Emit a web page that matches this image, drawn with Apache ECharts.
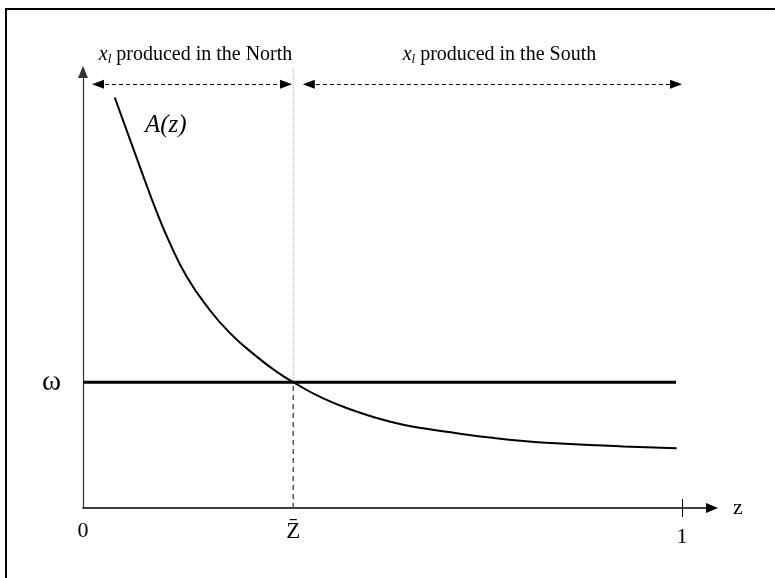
<!DOCTYPE html>
<html>
<head>
<meta charset="utf-8">
<script src="https://cdn.jsdelivr.net/npm/echarts@6/dist/echarts.min.js"></script>
<style>html,body{margin:0;padding:0;background:#fff}#c{width:775px;height:578px}</style>
</head>
<body>
<div id="c"></div>
<script>
// ---- data ----
const zValues = [0.053, 0.098, 0.123, 0.145, 0.173, 0.207, 0.245, 0.290, 0.323, 0.351, 0.401, 0.457, 0.513, 0.568, 0.624, 0.679, 0.735, 0.791, 0.846, 0.902, 0.991];
const aValues = [93.3, 76.4, 67.3, 60.2, 52.6, 45.8, 39.8, 34.4, 31.0, 28.6, 24.9, 21.9, 19.6, 18.1, 17.0, 16.0, 15.2, 14.7, 14.3, 14.0, 13.6];
const omega = 28.6;          // level of the horizontal ω line
const omegaEnd = 0.990;      // where the ω line stops
const zBar = 0.351;          // crossing point z̄
const zMax = 1;
const arrowLevel = 96.3;     // height of the dashed range arrows
const northRange = [0.025, 0.339];
const southRange = [0.377, 0.990];
const topLevel = 100;
const xTickLabels = ['0', 'Z\u0304', '1'];
const yTickLabel = 'ω';
const northText = 'produced in the North';
const southText = 'produced in the South';
const curveName = 'A(z)';
const xName = 'z';

const serif = "'Liberation Serif','Times New Roman',serif";
const richTop = {
  x: {fontFamily: serif, fontStyle: 'italic', fontSize: 20, color: '#000', lineHeight: 24},
  l: {fontFamily: serif, fontStyle: 'italic', fontSize: 13, color: '#000', lineHeight: 24, verticalAlign: 'bottom'},
  t: {fontFamily: serif, fontSize: 20, color: '#000', lineHeight: 24}
};

const curveData = zValues.map((z, i) => [z, aValues[i]]);
const xLabelValues = [0, zBar, zMax];

const chart = echarts.init(document.getElementById('c'), null, {renderer: 'canvas'});
chart.setOption({
  animation: false,
  backgroundColor: '#fff',
  grid: {left: 83, right: 63, top: 68, bottom: 70, containLabel: false},
  xAxis: [{
    type: 'value', min: 0, max: 1.05,
    splitLine: {show: false},
    axisLine: {show: true, lineStyle: {color: '#000', width: 1.5}, symbol: ['none', 'triangle'], symbolSize: [10, 12]},
    axisTick: {show: true, customValues: [zMax], length: 9, lineStyle: {color: '#000', width: 1}},
    axisLabel: {
      show: true, customValues: xLabelValues, margin: 12,
      formatter: function (v) {
        const i = xLabelValues.indexOf(v);
        if (i === 2) return '{c|' + xTickLabels[i] + '}';
        if (i === 1) return '{b|' + xTickLabels[i] + '}';
        return '{a|' + xTickLabels[i] + '}';
      },
      rich: {
        a: {fontFamily: serif, fontSize: 22, color: '#000'},
        b: {fontFamily: serif, fontSize: 23, color: '#000'},
        c: {fontFamily: serif, fontSize: 22, color: '#000', padding: [6, 0, 0, 0]}
      }
    },
    name: xName, nameLocation: 'end', nameGap: 21,
    nameTextStyle: {fontFamily: serif, fontSize: 22, color: '#000', padding: [36, 0, 0, 0]}
  }, {
    type: 'value', min: 0, max: 1.05, position: 'bottom',
    splitLine: {show: false},
    axisLine: {show: false},
    axisTick: {show: true, inside: true, customValues: [zMax], length: 9, lineStyle: {color: '#000', width: 1}},
    axisLabel: {show: false}
  }],
  yAxis: {
    type: 'value', min: 0, max: 100,
    splitLine: {show: false},
    axisLine: {show: true, lineStyle: {color: '#333', width: 1.2}, symbol: ['none', 'triangle'], symbolSize: [10, 12], symbolOffset: [0, -4]},
    axisTick: {show: false},
    axisLabel: {show: true, customValues: [omega], formatter: () => yTickLabel, margin: 22,
      fontFamily: serif, fontSize: 29, color: '#000'}
  },
  series: [
    {
      type: 'line', name: 'A', data: curveData, smooth: 0.5, symbol: 'none',
      lineStyle: {color: '#000', width: 2}, z: 5,
      markPoint: {
        silent: true, animation: false, symbol: 'circle', symbolSize: 0,
        data: [{coord: curveData[0], label: {show: true, formatter: curveName, position: 'inside', offset: [51, 28],
          fontFamily: serif, fontStyle: 'italic', fontSize: 25, color: '#000'}}]
      }
    },
    {
      type: 'line', name: 'omega', data: [[0, omega], [omegaEnd, omega]], symbol: 'none',
      lineStyle: {color: '#000', width: 3}, z: 4
    },
    {
      type: 'line', name: 'zbarLow', data: [[zBar, 0], [zBar, omega]], symbol: 'none',
      lineStyle: {color: '#555', width: 1.5, type: [5, 4]}, z: 3
    },
    {
      type: 'line', name: 'zbarHigh', data: [[zBar, omega], [zBar, topLevel]], symbol: 'none',
      lineStyle: {color: '#aaa', width: 1, type: [1, 1]}, z: 3,
      markLine: {
        silent: true, animation: false,
        symbol: ['triangle', 'triangle'], symbolSize: [9, 12],
        lineStyle: {color: '#000', width: 1.2, type: [4, 3]},
        data: [
          [{coord: [northRange[0], arrowLevel], label: {show: true, position: 'insideMiddleTop', distance: 18,
              padding: [0, 0, 0, 7], formatter: '{x|x}{l|l}{t| ' + northText + '}', rich: richTop}},
           {coord: [northRange[1], arrowLevel]}],
          [{coord: [southRange[0], arrowLevel], label: {show: true, position: 'insideMiddleTop', distance: 18,
              padding: [0, 0, 0, 14], formatter: '{x|x}{l|l}{t| ' + southText + '}', rich: richTop}},
           {coord: [southRange[1], arrowLevel]}]
        ]
      }
    }
  ],
  graphic: [{
    type: 'rect', silent: true,
    shape: {x: 6, y: 9, width: 820, height: 620},
    style: {fill: 'none', stroke: '#000', lineWidth: 2}
  }]
});
</script>
</body>
</html>
